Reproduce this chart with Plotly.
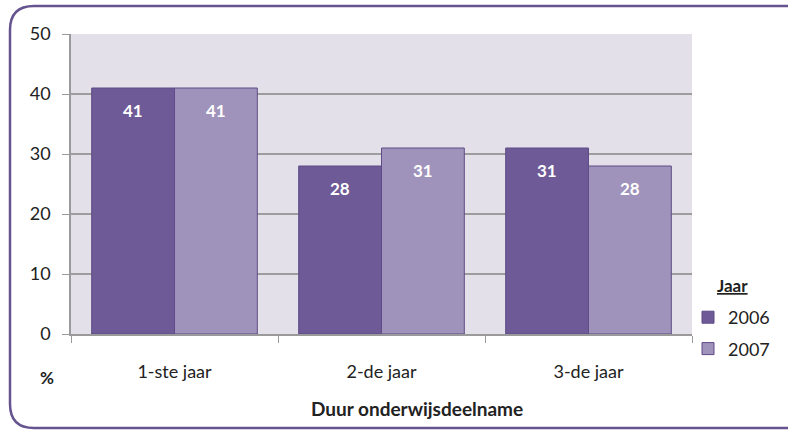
import plotly.graph_objects as go

categories = ["1-ste jaar", "2-de jaar", "3-de jaar"]
series_names = ["2006", "2007"]
values_2006 = [41, 28, 31]
values_2007 = [41, 31, 28]
y_ticks = [0, 10, 20, 30, 40, 50]

W, H = 788, 430
L, R, T, B = 71, 692, 34, 334  # plot area in px


def px(x):
    return (x - L) / (R - L)


def py(y):
    return (B - y) / (B - T)


c2006 = "#6e5a96"
c2007 = "#a093bb"
outline = "#5e4b87"
FONT = "Lato, sans-serif"

fig = go.Figure()
for name, vals, col in [(series_names[0], values_2006, c2006),
                        (series_names[1], values_2007, c2007)]:
    fig.add_trace(go.Bar(
        x=categories, y=vals, name=name, legendgroup=name,
        marker=dict(color=col, line=dict(color=outline, width=1)),
        hoverinfo="x+y+name",
    ))

# value labels inside bars
annotations = []
for idx, (name, vals) in enumerate([(series_names[0], values_2006), (series_names[1], values_2007)]):
    off = -0.2 if idx == 0 else 0.2
    for i, v in enumerate(vals):
        annotations.append(dict(
            x=i + off, y=v, xref="x", yref="y", text=f"<b>{v}</b>",
            showarrow=False, yshift=-22, yanchor="middle",
            font=dict(family=FONT, size=17, color="white"),
        ))

annotations.append(dict(x=px(47), y=py(377), xref="paper", yref="paper",
                        text="<b>%</b>", showarrow=False, xanchor="center", yanchor="middle",
                        font=dict(family=FONT, size=17, color="#222")))
annotations.append(dict(x=px(417), y=py(408), xref="paper", yref="paper",
                        text="<b>Duur onderwijsdeelname</b>", showarrow=False,
                        xanchor="center", yanchor="middle",
                        font=dict(family=FONT, size=19, color="#222")))
annotations.append(dict(x=px(732), y=py(285), xref="paper", yref="paper",
                        text="<b><u>Jaar</u></b>", showarrow=False,
                        xanchor="center", yanchor="middle",
                        font=dict(family=FONT, size=17, color="#222")))

# rounded border
bx0, bx1, by0, by1, rad = 10, 820, 6, 428, 24
path = (f"M {px(bx0)},{py(by0 + rad)} "
        f"Q {px(bx0)},{py(by0)} {px(bx0 + rad)},{py(by0)} "
        f"L {px(bx1)},{py(by0)} L {px(bx1)},{py(by1)} "
        f"L {px(bx0 + rad)},{py(by1)} "
        f"Q {px(bx0)},{py(by1)} {px(bx0)},{py(by1 - rad)} Z")

fig.update_layout(
    width=W, height=H,
    margin=dict(l=L, r=W - R, t=T, b=H - B, pad=0),
    paper_bgcolor="white",
    plot_bgcolor="#e3e0e9",
    barmode="group", bargap=0.2, bargroupgap=0,
    font=dict(family=FONT, size=17, color="#222"),
    showlegend=True,
    legend=dict(
        x=px(688), xanchor="left", y=py(299), yanchor="top",
        font=dict(size=18, color="#222"),
        traceorder="grouped", tracegroupgap=5,
        bgcolor="rgba(0,0,0,0)",
    ),
    xaxis=dict(
        type="category", tickson="boundaries", ticks="outside", ticklen=7,
        tickcolor="#9a9a9a", showline=True, linecolor="#9a9a9a", linewidth=1.5,
        showgrid=False, ticklabelstandoff=21,
        tickfont=dict(size=18, color="#222"),
    ),
    yaxis=dict(
        range=[0, 50], tickvals=y_ticks, ticks="outside", ticklen=7,
        tickcolor="#9a9a9a", showline=True, linecolor="#9a9a9a", linewidth=1.5,
        showgrid=True, gridcolor="#9d9d9d", gridwidth=1.5,
        zeroline=False, ticklabelstandoff=8,
        tickfont=dict(size=18, color="#222"),
    ),
    annotations=annotations,
    shapes=[dict(type="path", path=path, xref="paper", yref="paper",
                 line=dict(color="#65548f", width=2.5), fillcolor="rgba(0,0,0,0)",
                 layer="above")],
)

fig.write_html("out.html", config={"displayModeBar": False},
               post_script="document.body.style.margin='0';document.body.style.padding='0';")
